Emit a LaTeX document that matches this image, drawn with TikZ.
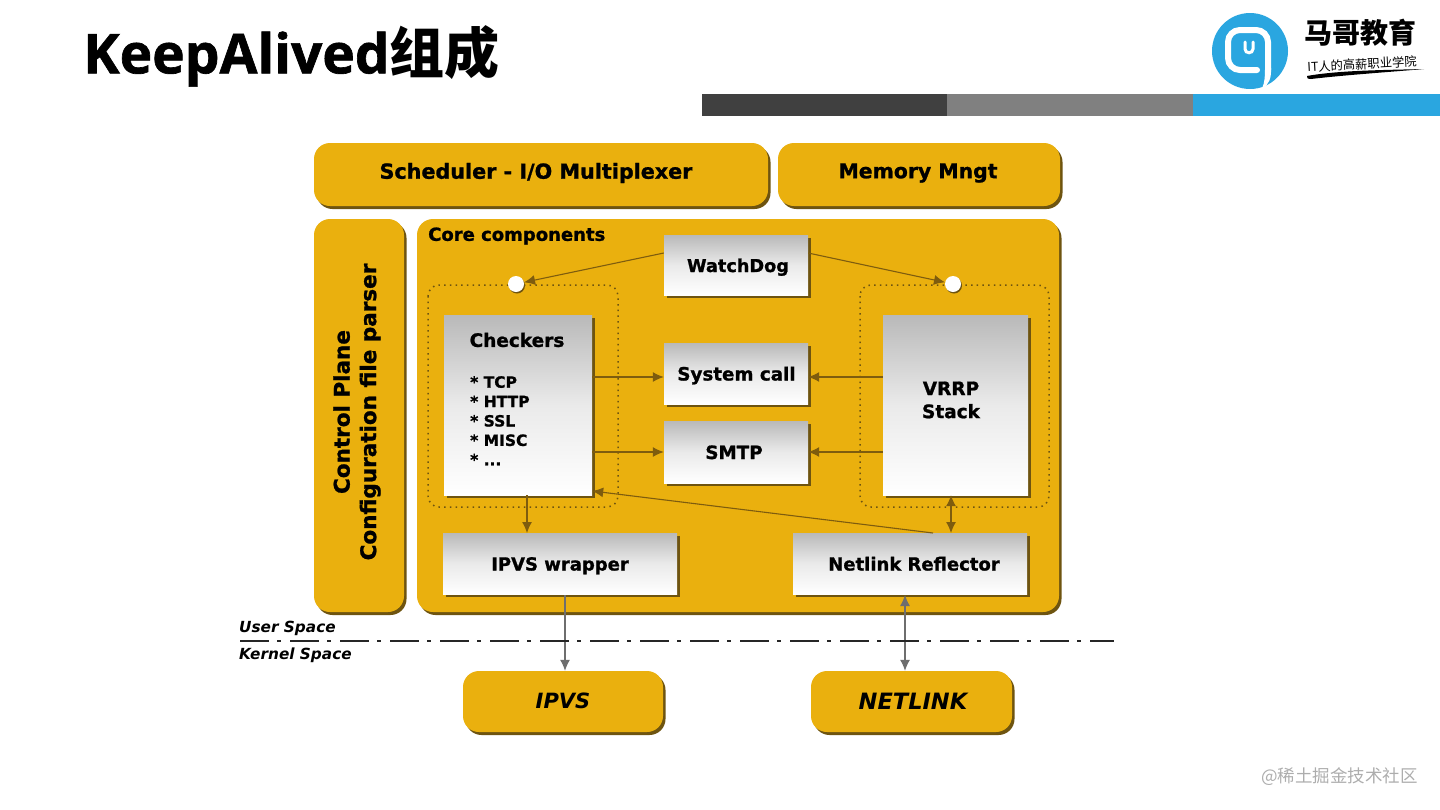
\documentclass[tikz,border=0pt]{standalone}
\usepackage{fontspec}
\setmainfont{DejaVu Sans}[BoldFeatures={FakeBold=1.1}]
\newfontfamily\titlefont{Open Sans}[BoldFeatures={FakeBold=1.2}]
\newfontfamily\cjk{Noto Sans CJK SC}
\usepackage{tikz}
\usetikzlibrary{positioning,calc,arrows.meta,shadows}
\definecolor{amber}{HTML}{EAB00E}
\definecolor{umber}{HTML}{6E5410}
\definecolor{arrowbrown}{HTML}{7E5C0E}
\definecolor{arrowgray}{HTML}{6E6E6E}
\definecolor{boxgray}{HTML}{B9B9B9}
\definecolor{logoblue}{HTML}{2AA6E0}
\tikzset{%
  arrow/.style = {
    ->,
    > = {Latex[length=11pt,width=10pt]},
    line width = 1.1pt,
    draw = #1,
  },
  amberbox/.style = {
    fill = amber,
    rounded corners = #1,
    inner sep = 0pt,
    general shadow = {shadow xshift=2.5pt, shadow yshift=-3pt, fill=umber},
  },
  amberbox/.default = {16pt},
  graybox/.style = {
    top color = boxgray,
    bottom color = white,
    middle color = boxgray!30!white,
    inner sep = 0pt,
    align = center,
    text height = 14pt,
    text depth = 0pt,
    general shadow = {shadow xshift=2.5pt, shadow yshift=-3pt, fill=umber},
  },
  dotbox/.style = {
    draw = umber,
    line width = 1.5pt,
    dash pattern = on 1.5pt off 4.2pt,
    rounded corners = 11pt,
  },
  hole/.style = {
    circle,
    fill = white,
    inner sep = 0pt,
    minimum size = 16pt,
    general shadow = {shadow xshift=1pt, shadow yshift=-1.5pt, fill=umber},
  },
  spacelabel/.style = {
    anchor = west,
    inner sep = 0pt,
    font = \bfseries\itshape\fontsize{15.3}{18}\selectfont,
  },
  barbox/.style = {
    fill = #1,
    minimum height = 22pt,
    inner sep = 0pt,
  },
  cap/.style = {
    inner sep = 0pt,
    font = \bfseries\fontsize{#1}{#1}\selectfont,
  },
}
\begin{document}
\begin{tikzpicture}[x=1pt,y=-1pt]
\useasboundingbox (0,0) rectangle (1440,809);
% heading
\node(title) [anchor=west, inner sep=0pt, font=\bfseries\fontsize{55}{60}\selectfont] at (83,56) {\titlefont KeepAlived\cjk 组成};
\node(bar1) [barbox={black!75}, minimum width=245pt] at (824.5,105) {};
\node(bar2) [barbox={black!50}, minimum width=246pt] at (1070,105) {};
\node(bar3) [barbox=logoblue, minimum width=247pt] at (1316.5,105) {};

% logo
\fill[logoblue] (1250,51) circle (38pt);
\draw[white, line width=6pt, line cap=round, rounded corners=12pt] (1257,70) -- (1228,70) -- (1228,30) -- (1268,30) -- (1268,70);
\fill[white] (1265,68) -- (1271,68) .. controls (1271.5,78) and (1269,85) .. (1262,88.5) .. controls (1265,82) and (1265,75) .. (1265,68) -- cycle;
\draw[white, line width=3pt, line cap=round] (1245,42) -- (1245,49) .. controls (1245,54) and (1253,54) .. (1253,49) -- (1253,42);
\node(brand) [inner sep=0pt, font=\bfseries\fontsize{28}{30}\selectfont] at (1360,33) {\cjk 马哥教育};
\node(motto) [inner sep=0pt, rotate=3, font=\fontsize{12.3}{14}\selectfont] at (1362,64) {\cjk IT人的高薪职业学院};
\fill[black] (1307,76) .. controls (1340,70) and (1390,70) .. (1424,69) .. controls (1390,72) and (1345,75) .. (1311,79) .. controls (1308,79) and (1306,78) .. (1307,76) -- cycle;

% yellow blocks
\node(sched) [amberbox, minimum width=454pt, minimum height=63pt] at (541,174.5) {};
\node(memo)  [amberbox, minimum width=282pt, minimum height=63pt] at (919,174.5) {};
\node(ctrl)  [amberbox, minimum width=90pt, minimum height=393pt] at (359,415.5) {};
\node(core)  [amberbox, minimum width=642pt, minimum height=393pt] at (738,415.5) {};
\node(ipvs)  [amberbox, minimum width=200pt, minimum height=61pt] at (563,701.5) {};
\node(nlk)   [amberbox, minimum width=201pt, minimum height=61pt] at (911.5,701.5) {};
\node(schedt) [cap=20.7] at (536,173) {Scheduler - I/O Multiplexer};
\node(memot)  [cap=20.4] at (918,173) {Memory Mngt};
\node(ctrlt)  [inner sep=0pt, rotate=90, align=center, font=\bfseries\fontsize{21.5}{26.5}\selectfont] at (357,412) {Control Plane\\Configuration file parser};
\node(coret)  [anchor=west, cap=18] at (428,236) {Core components};
\node(ipvst)  [inner sep=0pt, font=\bfseries\itshape\fontsize{21}{25}\selectfont] at (563,701) {IPVS};
\node(nlkt)   [inner sep=0pt, font=\bfseries\itshape\fontsize{22.5}{25}\selectfont] at (913,701) {NETLINK};

% dotted frames
\draw[dotbox] (428,285) rectangle (618,507);
\draw[dotbox] (860,285) rectangle (1049,507);

% gray boxes
\node(wd)  [graybox, font=\bfseries\fontsize{17.7}{22}\selectfont, minimum width=144pt, minimum height=60pt] at (736,265) {\hspace*{4pt}WatchDog};
\node(sys) [graybox, font=\bfseries\fontsize{18.3}{22}\selectfont, minimum width=144pt, minimum height=61pt] at (736,373.5) {\hspace*{1pt}System call};
\node(smtp)[graybox, font=\bfseries\fontsize{18.3}{22}\selectfont, minimum width=144pt, minimum height=62pt] at (736,452) {SMTP\hspace*{4pt}};
\node(chk) [graybox, minimum width=148pt, minimum height=180pt] at (518,405) {};
\node(vrrp)[graybox, minimum width=145pt, minimum height=180pt] at (955.5,405) {};
\node(ipw) [graybox, font=\bfseries\fontsize{18}{22}\selectfont, minimum width=234pt, minimum height=61pt] at (560,563.5) {IPVS wrapper};
\node(nlr) [graybox, font=\bfseries\fontsize{18}{22}\selectfont, minimum width=234pt, minimum height=61pt] at (910,563.5) {\hspace*{8pt}Netlink Reflector};
\node(chkt) [cap=18.5] at (517,340) {Checkers};
\node(chkl) [anchor=north west, inner sep=0pt, align=left, font=\bfseries\fontsize{15.5}{19.4}\selectfont] at (470,376) {* TCP\\* HTTP\\* SSL\\* MISC\\* ...};
\node(vrrpt) [inner sep=0pt, align=center, font=\bfseries\fontsize{18.5}{23}\selectfont] at (951,400) {VRRP\\Stack};

% junctions and free ends
\node(h1) [hole] at (516,284) {};
\node(h2) [hole] at (953,284) {};
\coordinate (wy) at (0,253);
\coordinate (sy) at (0,377);
\coordinate (cy) at (0,491);
\coordinate (cw) at (527,533);
\coordinate (nv) at (951,533);
\coordinate (nc) at (933,533);
\coordinate (iv) at (565,595);
\coordinate (nn) at (905,595);

% connectors
\draw[arrow=arrowbrown] (wd.west |- wy) -- (h1);
\draw[arrow=arrowbrown] (wd.east |- wy) -- (h2);
\draw[arrow=arrowbrown] (chk.east |- sy) -- (sys.west |- sy);
\draw[arrow=arrowbrown] (chk.east |- smtp.west) -- (smtp.west);
\draw[arrow=arrowbrown] (vrrp.west |- sy) -- (sys.east |- sy);
\draw[arrow=arrowbrown] (vrrp.west |- smtp.east) -- (smtp.east);
\draw[arrow=arrowbrown] (nc) -- (chk.east |- cy);
\draw[arrow=arrowbrown] (chk.south -| cw) -- (cw);
\draw[arrow=arrowbrown, <->] (vrrp.south -| nv) -- (nv);
\draw[arrow=arrowgray] (iv) -- (ipvs.north -| iv);
\draw[arrow=arrowgray, <->] (nn) -- (nlk.north -| nn);

% user / kernel divide
\coordinate (d1) at (240,641);
\coordinate (d2) at (1114,641);
\draw[black!85, line width=1.4pt, dash pattern=on 29pt off 8pt on 4pt off 9pt] (d1) -- (d2);
\node(usr) [spacelabel] at (239,628) {User Space};
\node(ker) [spacelabel] at (239,655) {Kernel Space};

% corner mark
\node(mark) [anchor=east, inner sep=0pt, text=black!32, font=\fontsize{17.5}{20}\selectfont] at (1418,777) {\cjk @稀土掘金技术社区};
\end{tikzpicture}
\end{document}
